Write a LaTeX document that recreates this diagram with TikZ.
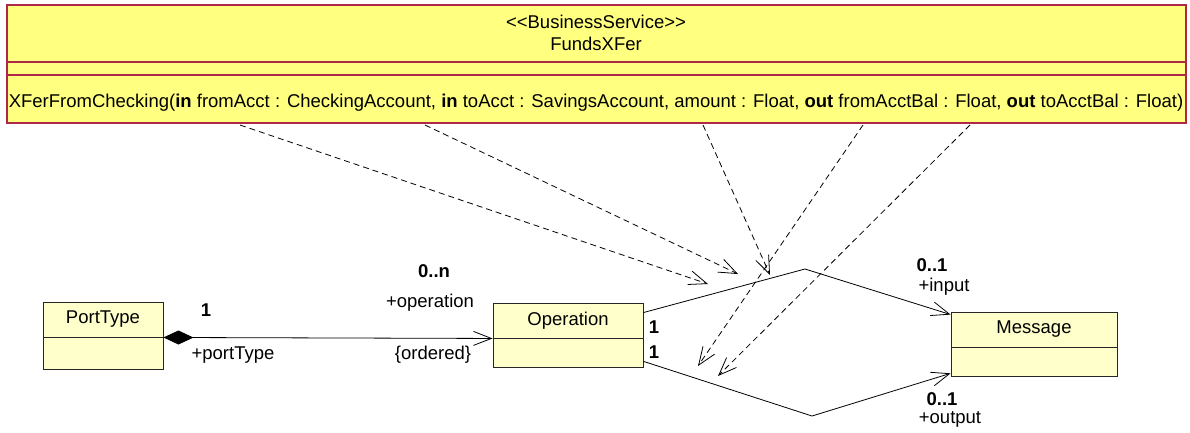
\documentclass[tikz,border=0pt]{standalone}
\usepackage{fontspec}
\setmainfont{Liberation Sans}
\usetikzlibrary{arrows.meta,positioning}

\definecolor{svcfill}{RGB}{255,255,128}
\definecolor{svcline}{RGB}{176,40,72}
\definecolor{clsfill}{RGB}{255,255,204}

\tikzset{
  cls/.style={draw=black!85, fill=clsfill, line width=0.9pt, inner sep=0pt},
  assoc/.style={line width=0.8pt, -{Straight Barb[length=18pt,width=14pt]}},
  dep/.style={dash pattern=on 6pt off 4pt, line width=0.8pt, -{Straight Barb[length=18pt,width=14pt]}},
  mult/.style={font=\fontsize{18.5}{22}\selectfont\bfseries},
}

\begin{document}
\begin{tikzpicture}[x=1pt,y=-1pt,font=\fontsize{18.5}{22}\selectfont]
\useasboundingbox (0,0) rectangle (1190,432);

% business service class
\node[draw=svcline, fill=svcfill, line width=1.6pt, minimum width=1179pt, minimum height=118pt, inner sep=0pt] (svc) at (596.5,64) {};
\draw[svcline, line width=1.2pt] (7,62) -- (1186,62) (7,75) -- (1186,75);
\node (stereo) at (596,22) {<\kern0pt<BusinessService>\kern0pt>};
\node (svcname) at (596,44) {FundsXFer};
\node (svcop) at (596,103) {XFerFromChecking(\textbf{in} fromAcct : CheckingAccount, \textbf{in} toAcct : SavingsAccount, amount : Float, \textbf{out} fromAcctBal : Float, \textbf{out} toAcctBal : Float)};

% classes
\node[cls, minimum width=120pt, minimum height=35pt] (ptype) at (103,319.5) {PortType};
\node[cls, minimum width=120pt, minimum height=32pt, below=0pt of ptype] (ptypeattr) {};
\node[cls, minimum width=150pt, minimum height=35pt] (op) at (568,320.5) {Operation};
\node[cls, minimum width=150pt, minimum height=29pt, below=0pt of op] (opattr) {};
\node[cls, minimum width=166pt, minimum height=35pt] (msg) at (1034,329.5) {Message};
\node[cls, minimum width=166pt, minimum height=29pt, below=0pt of msg] (msgattr) {};

% associations
\coordinate (inbend) at (805,269);
\coordinate (outbend) at (812,416);
\draw[line width=0.8pt, {Diamond[length=30pt,width=14pt]}-{Straight Barb[length=18pt,width=14pt]}] (ptype.south east) -- (op.south west);
\draw[assoc] ([yshift=-10pt]op.north east) -- (inbend) -- ([yshift=-3pt]msg.north west);
\draw[assoc] ([yshift=7pt]opattr.south east) -- (outbend) -- ([yshift=4pt]msgattr.south west);

% parameter dependencies
\coordinate (p1) at (240,125);
\coordinate (p2) at (425,125);
\coordinate (p3) at (703,125);
\coordinate (p4) at (863,125);
\coordinate (p5) at (970,125);
\coordinate (t1) at (708,284);
\coordinate (t2) at (738,274);
\coordinate (t3) at (770,275);
\coordinate (t4) at (698,366);
\coordinate (t5) at (718,376);
\foreach \i in {1,...,5}
  \draw[dep] (p\i) -- (t\i);

% role names and multiplicities
\node[mult] (ptmult) at (206,310) {1};
\node (ptrole) at (233,355) {+portType};
\node[mult] (opmult) at (434,271) {0..n};
\node (oprole) at (430,303) {+operation};
\node (opord) at (433,355) {\{ordered\}};
\node[mult] (inmult1) at (654,327) {1};
\node[mult] (outmult1) at (654,352) {1};
\node[mult] (inmult) at (932,265) {0..1};
\node (inrole) at (944,287) {+input};
\node[mult] (outmult) at (942,399) {0..1};
\node (outrole) at (950,419) {+output};
\end{tikzpicture}
\end{document}
